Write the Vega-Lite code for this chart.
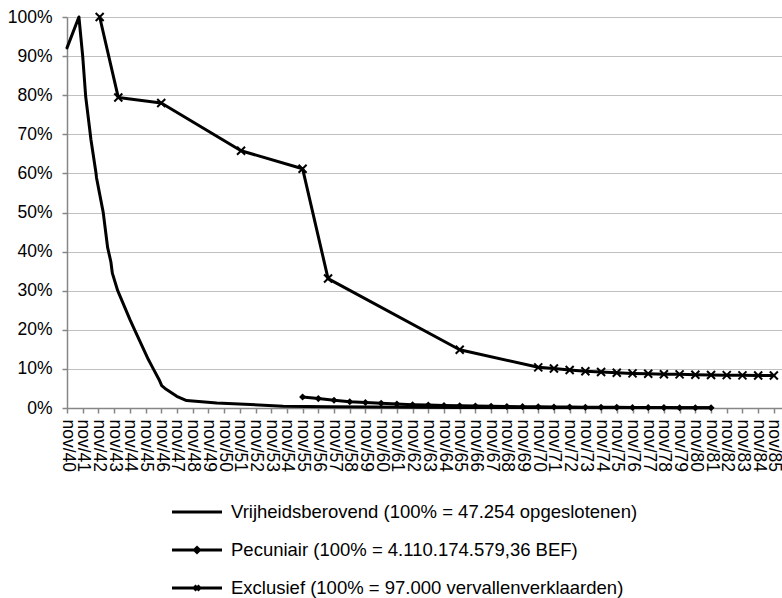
{
  "$schema": "https://vega.github.io/schema/vega-lite/v6.json",
  "width": 716,
  "height": 391,
  "autosize": {"type": "none"},
  "padding": {"left": 67, "top": 17, "right": 0, "bottom": 190},
  "background": "white",
  "config": {
    "view": {"stroke": null},
    "font": "Liberation Sans",
    "axis": {"labelFont": "Liberation Sans", "labelColor": "black", "domainColor": "#868686", "tickColor": "#868686", "domainWidth": 1.5, "tickWidth": 1.5, "tickSize": 5, "title": null}
  },
  "data": {
    "values": [
      {"serie": "Vrijheidsberovend", "datum": "1940-11-01", "waarde": 92.1},
      {"serie": "Vrijheidsberovend", "datum": "1941-08-05", "waarde": 100},
      {"serie": "Vrijheidsberovend", "datum": "1941-11-01", "waarde": 90.0},
      {"serie": "Vrijheidsberovend", "datum": "1942-01-10", "waarde": 79.6},
      {"serie": "Vrijheidsberovend", "datum": "1942-04-15", "waarde": 71.1},
      {"serie": "Vrijheidsberovend", "datum": "1942-05-12", "waarde": 68.6},
      {"serie": "Vrijheidsberovend", "datum": "1942-09-06", "waarde": 60.1},
      {"serie": "Vrijheidsberovend", "datum": "1942-09-18", "waarde": 58.9},
      {"serie": "Vrijheidsberovend", "datum": "1943-02-20", "waarde": 50.1},
      {"serie": "Vrijheidsberovend", "datum": "1943-06-04", "waarde": 41.0},
      {"serie": "Vrijheidsberovend", "datum": "1943-08-18", "waarde": 37.4},
      {"serie": "Vrijheidsberovend", "datum": "1943-09-21", "waarde": 34.5},
      {"serie": "Vrijheidsberovend", "datum": "1944-01-24", "waarde": 30.0},
      {"serie": "Vrijheidsberovend", "datum": "1944-11-04", "waarde": 22.6},
      {"serie": "Vrijheidsberovend", "datum": "1945-02-15", "waarde": 20.1},
      {"serie": "Vrijheidsberovend", "datum": "1946-01-06", "waarde": 12.4},
      {"serie": "Vrijheidsberovend", "datum": "1946-05-01", "waarde": 10.0},
      {"serie": "Vrijheidsberovend", "datum": "1946-09-10", "waarde": 7.3},
      {"serie": "Vrijheidsberovend", "datum": "1946-11-12", "waarde": 5.7},
      {"serie": "Vrijheidsberovend", "datum": "1947-01-28", "waarde": 5.0},
      {"serie": "Vrijheidsberovend", "datum": "1947-10-28", "waarde": 3.0},
      {"serie": "Vrijheidsberovend", "datum": "1948-06-13", "waarde": 1.9},
      {"serie": "Vrijheidsberovend", "datum": "1950-05-15", "waarde": 1.3},
      {"serie": "Vrijheidsberovend", "datum": "1952-06-28", "waarde": 0.9},
      {"serie": "Vrijheidsberovend", "datum": "1954-08-04", "waarde": 0.45},
      {"serie": "Vrijheidsberovend", "datum": "1957-08-01", "waarde": 0.3},
      {"serie": "Vrijheidsberovend", "datum": "1965-11-01", "waarde": 0.15},
      {"serie": "Vrijheidsberovend", "datum": "1981-11-01", "waarde": 0.05},
      {"serie": "Pecuniair", "datum": "1955-11-01", "waarde": 2.8},
      {"serie": "Pecuniair", "datum": "1956-11-01", "waarde": 2.4},
      {"serie": "Pecuniair", "datum": "1957-11-01", "waarde": 2.0},
      {"serie": "Pecuniair", "datum": "1958-11-01", "waarde": 1.6},
      {"serie": "Pecuniair", "datum": "1959-11-01", "waarde": 1.4},
      {"serie": "Pecuniair", "datum": "1960-11-01", "waarde": 1.2},
      {"serie": "Pecuniair", "datum": "1961-11-01", "waarde": 1.0},
      {"serie": "Pecuniair", "datum": "1962-11-01", "waarde": 0.85},
      {"serie": "Pecuniair", "datum": "1963-11-01", "waarde": 0.75},
      {"serie": "Pecuniair", "datum": "1964-11-01", "waarde": 0.65},
      {"serie": "Pecuniair", "datum": "1965-11-01", "waarde": 0.55},
      {"serie": "Pecuniair", "datum": "1966-11-01", "waarde": 0.5},
      {"serie": "Pecuniair", "datum": "1967-11-01", "waarde": 0.45},
      {"serie": "Pecuniair", "datum": "1968-11-01", "waarde": 0.4},
      {"serie": "Pecuniair", "datum": "1969-11-01", "waarde": 0.35},
      {"serie": "Pecuniair", "datum": "1970-11-01", "waarde": 0.3},
      {"serie": "Pecuniair", "datum": "1971-11-01", "waarde": 0.27},
      {"serie": "Pecuniair", "datum": "1972-11-01", "waarde": 0.24},
      {"serie": "Pecuniair", "datum": "1973-11-01", "waarde": 0.21},
      {"serie": "Pecuniair", "datum": "1974-11-01", "waarde": 0.18},
      {"serie": "Pecuniair", "datum": "1975-11-01", "waarde": 0.16},
      {"serie": "Pecuniair", "datum": "1976-11-01", "waarde": 0.14},
      {"serie": "Pecuniair", "datum": "1977-11-01", "waarde": 0.12},
      {"serie": "Pecuniair", "datum": "1978-11-01", "waarde": 0.1},
      {"serie": "Pecuniair", "datum": "1979-11-01", "waarde": 0.08},
      {"serie": "Pecuniair", "datum": "1980-11-01", "waarde": 0.06},
      {"serie": "Pecuniair", "datum": "1981-11-01", "waarde": 0.05},
      {"serie": "Exclusief", "datum": "1942-12-01", "waarde": 100},
      {"serie": "Exclusief", "datum": "1944-02-07", "waarde": 79.4},
      {"serie": "Exclusief", "datum": "1946-11-01", "waarde": 78.0},
      {"serie": "Exclusief", "datum": "1951-12-01", "waarde": 65.8},
      {"serie": "Exclusief", "datum": "1955-11-01", "waarde": 61.2},
      {"serie": "Exclusief", "datum": "1957-06-15", "waarde": 33.1},
      {"serie": "Exclusief", "datum": "1965-11-01", "waarde": 14.9},
      {"serie": "Exclusief", "datum": "1970-11-01", "waarde": 10.4},
      {"serie": "Exclusief", "datum": "1971-11-01", "waarde": 10.1},
      {"serie": "Exclusief", "datum": "1972-11-01", "waarde": 9.7},
      {"serie": "Exclusief", "datum": "1973-11-01", "waarde": 9.4},
      {"serie": "Exclusief", "datum": "1974-11-01", "waarde": 9.2},
      {"serie": "Exclusief", "datum": "1975-11-01", "waarde": 9.0},
      {"serie": "Exclusief", "datum": "1976-11-01", "waarde": 8.85},
      {"serie": "Exclusief", "datum": "1977-11-01", "waarde": 8.75},
      {"serie": "Exclusief", "datum": "1978-11-01", "waarde": 8.65},
      {"serie": "Exclusief", "datum": "1979-11-01", "waarde": 8.6},
      {"serie": "Exclusief", "datum": "1980-11-01", "waarde": 8.5},
      {"serie": "Exclusief", "datum": "1981-11-01", "waarde": 8.45},
      {"serie": "Exclusief", "datum": "1982-11-01", "waarde": 8.4},
      {"serie": "Exclusief", "datum": "1983-11-01", "waarde": 8.35},
      {"serie": "Exclusief", "datum": "1984-11-01", "waarde": 8.3},
      {"serie": "Exclusief", "datum": "1985-11-01", "waarde": 8.3}
    ]
  },
  "encoding": {
    "x": {
      "field": "datum",
      "type": "temporal",
      "scale": {"domain": [{"year": 1940, "month": 11, "date": 1, "utc": true}, {"year": 1986, "month": 6, "date": 1, "utc": true}]},
      "axis": {
        "grid": false,
        "labelAngle": 90,
        "labelFontSize": 17.5,
        "labelPadding": 6,
        "labelOverlap": false,
        "labelExpr": "'nov/' + utcFormat(datum.value, '%y')",
        "values": [
          {"year": 1940, "month": 11, "date": 1, "utc": true}, {"year": 1941, "month": 11, "date": 1, "utc": true},
          {"year": 1942, "month": 11, "date": 1, "utc": true}, {"year": 1943, "month": 11, "date": 1, "utc": true},
          {"year": 1944, "month": 11, "date": 1, "utc": true}, {"year": 1945, "month": 11, "date": 1, "utc": true},
          {"year": 1946, "month": 11, "date": 1, "utc": true}, {"year": 1947, "month": 11, "date": 1, "utc": true},
          {"year": 1948, "month": 11, "date": 1, "utc": true}, {"year": 1949, "month": 11, "date": 1, "utc": true},
          {"year": 1950, "month": 11, "date": 1, "utc": true}, {"year": 1951, "month": 11, "date": 1, "utc": true},
          {"year": 1952, "month": 11, "date": 1, "utc": true}, {"year": 1953, "month": 11, "date": 1, "utc": true},
          {"year": 1954, "month": 11, "date": 1, "utc": true}, {"year": 1955, "month": 11, "date": 1, "utc": true},
          {"year": 1956, "month": 11, "date": 1, "utc": true}, {"year": 1957, "month": 11, "date": 1, "utc": true},
          {"year": 1958, "month": 11, "date": 1, "utc": true}, {"year": 1959, "month": 11, "date": 1, "utc": true},
          {"year": 1960, "month": 11, "date": 1, "utc": true}, {"year": 1961, "month": 11, "date": 1, "utc": true},
          {"year": 1962, "month": 11, "date": 1, "utc": true}, {"year": 1963, "month": 11, "date": 1, "utc": true},
          {"year": 1964, "month": 11, "date": 1, "utc": true}, {"year": 1965, "month": 11, "date": 1, "utc": true},
          {"year": 1966, "month": 11, "date": 1, "utc": true}, {"year": 1967, "month": 11, "date": 1, "utc": true},
          {"year": 1968, "month": 11, "date": 1, "utc": true}, {"year": 1969, "month": 11, "date": 1, "utc": true},
          {"year": 1970, "month": 11, "date": 1, "utc": true}, {"year": 1971, "month": 11, "date": 1, "utc": true},
          {"year": 1972, "month": 11, "date": 1, "utc": true}, {"year": 1973, "month": 11, "date": 1, "utc": true},
          {"year": 1974, "month": 11, "date": 1, "utc": true}, {"year": 1975, "month": 11, "date": 1, "utc": true},
          {"year": 1976, "month": 11, "date": 1, "utc": true}, {"year": 1977, "month": 11, "date": 1, "utc": true},
          {"year": 1978, "month": 11, "date": 1, "utc": true}, {"year": 1979, "month": 11, "date": 1, "utc": true},
          {"year": 1980, "month": 11, "date": 1, "utc": true}, {"year": 1981, "month": 11, "date": 1, "utc": true},
          {"year": 1982, "month": 11, "date": 1, "utc": true}, {"year": 1983, "month": 11, "date": 1, "utc": true},
          {"year": 1984, "month": 11, "date": 1, "utc": true}, {"year": 1985, "month": 11, "date": 1, "utc": true}
        ]
      }
    },
    "y": {
      "field": "waarde",
      "type": "quantitative",
      "scale": {"domain": [0, 100], "nice": false},
      "axis": {
        "values": [0, 10, 20, 30, 40, 50, 60, 70, 80, 90, 100],
        "labelExpr": "datum.value + '%'",
        "labelFontSize": 17.5,
        "labelPadding": 10,
        "grid": true,
        "gridColor": "#c0c0c0",
        "gridWidth": 1
      }
    }
  },
  "layer": [
    {
      "mark": {"type": "line", "color": "black", "strokeWidth": 3, "strokeJoin": "round", "strokeCap": "round"},
      "encoding": {"detail": {"field": "serie"}}
    },
    {
      "transform": [{"filter": "datum.serie == 'Pecuniair'"}],
      "mark": {"type": "point", "shape": "diamond", "filled": true, "color": "black", "size": 50, "opacity": 1}
    },
    {
      "transform": [{"filter": "datum.serie == 'Exclusief'"}],
      "mark": {"type": "point", "shape": "M-1,-1L1,1M-1,1L1,-1", "filled": false, "color": "black", "strokeWidth": 2, "size": 64, "opacity": 1}
    },
    {
      "mark": {"type": "point", "opacity": 0, "filled": false, "color": "black"},
      "encoding": {
        "shape": {
          "field": "serie",
          "type": "nominal",
          "scale": {
            "domain": ["Vrijheidsberovend", "Pecuniair", "Exclusief"],
            "range": [
              "M-3,0H3",
              "M-3,0H3M0,-0.3L0.3,0L0,0.3L-0.3,0Z",
              "M-3,0H3M-0.3,-0.3L0.3,0.3M-0.3,0.3L0.3,-0.3"
            ]
          },
          "legend": {
            "orient": "none",
            "legendX": 120,
            "legendY": 485,
            "direction": "vertical",
            "title": null,
            "labelFont": "Liberation Sans",
            "labelFontSize": 18.5,
            "labelColor": "black",
            "labelOffset": 24,
            "rowPadding": 18,
            "symbolSize": 278,
            "symbolStrokeWidth": 3,
            "symbolStrokeColor": "black",
            "symbolFillColor": "black",
            "symbolOpacity": 1,
            "labelExpr": "datum.label == 'Vrijheidsberovend' ? 'Vrijheidsberovend (100% = 47.254 opgeslotenen)' : datum.label == 'Pecuniair' ? 'Pecuniair (100% = 4.110.174.579,36 BEF)' : 'Exclusief (100% = 97.000 vervallenverklaarden)'",
            "labelLimit": 600
          }
        }
      }
    }
  ]
}
